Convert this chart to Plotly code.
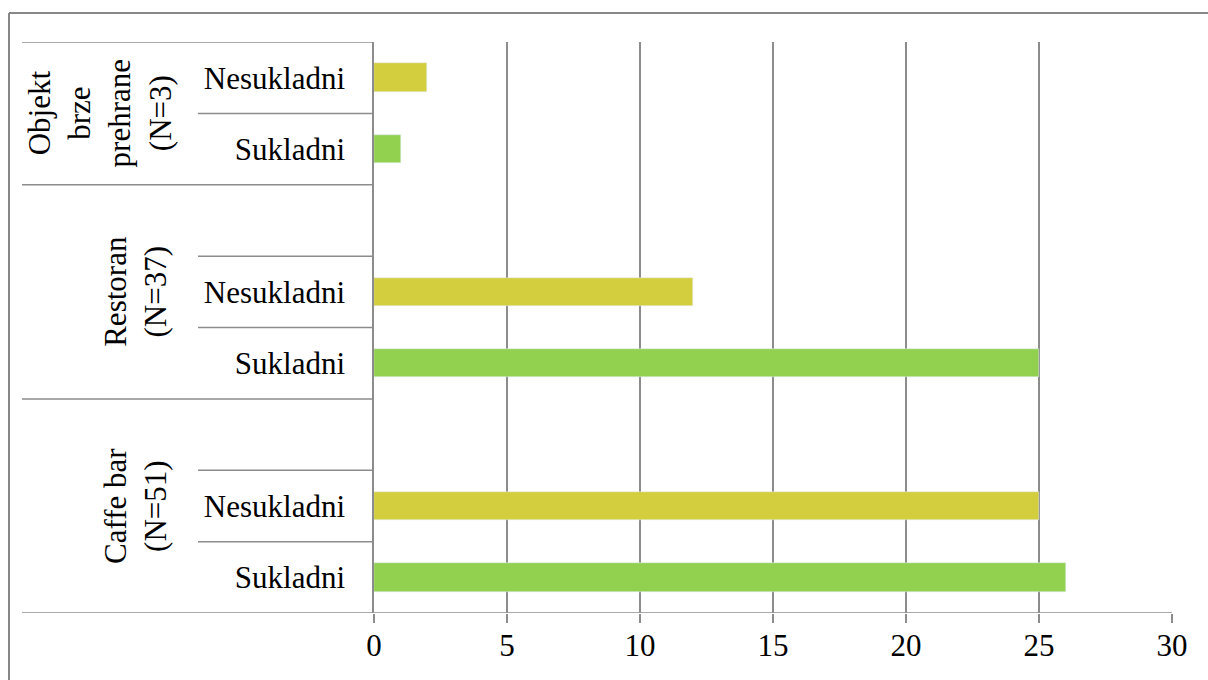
import plotly.graph_objects as go

# Data
groups = ["Caffe bar<br>(N=51)", "Restoran<br>(N=37)", "Objekt<br>brze<br>prehrane<br>(N=3)"]
subcats = ["Sukladni", "Nesukladni"]
sukladni = [26, 25, 1]
nesukladni = [25, 12, 2]
x_ticks = [0, 5, 10, 15, 20, 25, 30]

# slot positions: each group uses slots (Sukladni, Nesukladni, blank) except the last
pos_s = [0, 3, 6]
pos_n = [1, 4, 7]

GREEN = "#92D050"
OLIVE = "#D3CE3E"
LINE = "#8C8C8C"
FONT = "Liberation Serif"
FS = 31

W, H = 1208, 680
L, R, T, B = 374, 36, 42, 67
PW = W - L - R
PH = H - T - B


def px_to_paper_x(px):
    return (px - L) / PW


def py_to_paper_y(py):
    return (H - B - py) / PH


fig = go.Figure()
fig.add_trace(go.Bar(y=pos_s, x=sukladni, orientation="h", marker_color=GREEN,
                     width=0.4, name="Sukladni", showlegend=False))
fig.add_trace(go.Bar(y=pos_n, x=nesukladni, orientation="h", marker_color=OLIVE,
                     width=0.4, name="Nesukladni", showlegend=False))

tickvals = pos_s + pos_n
ticktext = [subcats[0]] * 3 + [subcats[1]] * 3

shapes = []
short_lines = [0.5, 1.5, 3.5, 4.5, 6.5]
long_lines = [-0.5, 2.5, 5.5, 7.5]
for yv in short_lines:
    shapes.append(dict(type="line", xref="paper", yref="y", x0=px_to_paper_x(198), x1=0,
                       y0=yv, y1=yv, line=dict(color=LINE, width=1.5)))
for yv in long_lines:
    x1 = 1 if yv == -0.5 else 0
    shapes.append(dict(type="line", xref="paper", yref="y", x0=px_to_paper_x(22), x1=x1,
                       y0=yv, y1=yv, line=dict(color=LINE, width=1.5)))
# outer chart frame (left and top edges visible in the window)
fx = px_to_paper_x(9)
fy = py_to_paper_y(13)
shapes.append(dict(type="line", xref="paper", yref="paper", x0=fx, x1=fx,
                   y0=fy, y1=py_to_paper_y(700), line=dict(color="#878787", width=2)))
shapes.append(dict(type="line", xref="paper", yref="paper", x0=fx, x1=px_to_paper_x(1240),
                   y0=fy, y1=fy, line=dict(color="#878787", width=2)))

annotations = []
group_centers = [(136, 1), (136, 4), (100, 6.5)]
for g, (cx, cy) in zip(groups, group_centers):
    annotations.append(dict(text=g, xref="paper", yref="y", x=px_to_paper_x(cx), y=cy,
                            xanchor="center", yanchor="middle", textangle=-90, showarrow=False,
                            font=dict(family=FONT, size=FS, color="black"), align="center"))

fig.update_layout(
    width=W, height=H,
    margin=dict(l=L, r=R, t=T, b=B, pad=0, autoexpand=False),
    paper_bgcolor="white", plot_bgcolor="white",
    font=dict(family=FONT, size=FS, color="black"),
    bargap=0,
    shapes=shapes,
    annotations=annotations,
    xaxis=dict(range=[0, 30], tickvals=x_ticks, showgrid=True, gridcolor=LINE, gridwidth=1.5,
               zeroline=False, showline=False, ticks="outside", ticklen=9, tickwidth=1.5,
               tickcolor=LINE, tickfont=dict(family=FONT, size=FS, color="black"),
               ticklabelstandoff=-4, automargin=False, fixedrange=True),
    yaxis=dict(range=[-0.5, 7.5], tickvals=tickvals, ticktext=ticktext, showgrid=False,
               zeroline=False, showline=True, linecolor=LINE, linewidth=1.5, ticks="",
               tickfont=dict(family=FONT, size=FS, color="black"), ticklabelstandoff=21,
               automargin=False, fixedrange=True),
)

fig.write_html("out.html", config={"displayModeBar": False},
               post_script="document.body.style.margin='0';document.body.style.overflow='hidden';")
